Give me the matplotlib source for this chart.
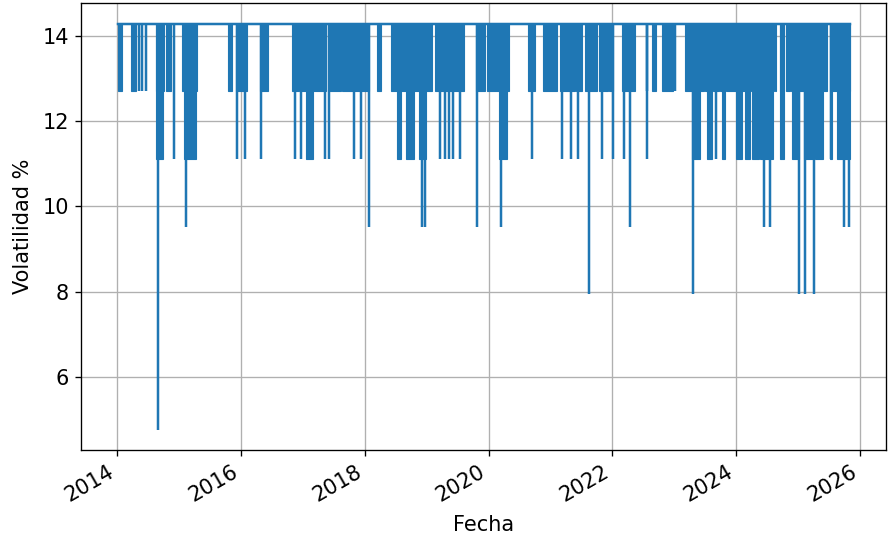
import numpy as np
import pandas as pd
import matplotlib
matplotlib.use("Agg")
import matplotlib.pyplot as plt
import matplotlib.dates as mdates

esc = 1.2
plt.rcParams['font.size'] = 15
plt.rcParams['axes.linewidth'] = 0.8 * esc
plt.rcParams['axes.labelpad'] = 7
for eje in ['xtick', 'ytick']:
    plt.rcParams[eje + '.major.size'] = 3.5 * esc
    plt.rcParams[eje + '.major.width'] = 0.8 * esc
    plt.rcParams[eje + '.major.pad'] = 3.5 * esc

# nivel normal de la serie (%)
tope = 14.29
inicio_serie = "2014-01-02"
fin_serie = "2025-11-01"

# tramos densos (la serie oscila muchas veces entre el tope y el nivel)
bloque_inicio = ["2014-01-02", "2014-03-22", "2014-08-17", "2014-10-16", "2015-01-19",
                 "2015-10-17", "2015-12-03", "2016-04-23", "2016-10-30", "2016-12-22",
                 "2017-02-20", "2017-05-30", "2017-08-21", "2018-03-15", "2018-06-06",
                 "2019-02-16", "2019-10-21", "2019-12-25", "2020-08-18", "2020-11-15",
                 "2021-02-24", "2021-05-28", "2021-07-20", "2021-10-11", "2021-12-09",
                 "2022-02-25", "2022-08-20", "2022-10-18", "2023-03-02", "2023-07-01",
                 "2023-08-16", "2023-09-28", "2023-11-03", "2024-03-26", "2024-08-15",
                 "2024-09-14", "2024-10-20", "2024-11-21", "2025-01-05", "2025-07-06",
                 # nivel 11.11
                 "2014-08-17", "2015-01-31", "2017-01-21", "2018-07-11", "2018-09-03",
                 "2018-11-19", "2020-03-05", "2023-04-13", "2023-07-10", "2023-10-07",
                 "2023-12-29", "2024-02-21", "2024-04-01", "2024-05-20", "2024-09-14",
                 "2024-11-24", "2025-02-03", "2025-04-08", "2025-07-09", "2025-08-16"]
bloque_fin = ["2014-01-30", "2014-04-21", "2014-10-04", "2014-11-15", "2015-04-16",
              "2015-11-10", "2016-02-07", "2016-06-10", "2016-12-10", "2017-02-14",
              "2017-05-18", "2017-08-15", "2018-01-28", "2018-04-08", "2019-01-29",
              "2019-08-11", "2019-12-08", "2020-05-03", "2020-09-29", "2021-02-06",
              "2021-05-22", "2021-07-08", "2021-09-29", "2021-12-03", "2022-01-02",
              "2022-05-11", "2022-09-12", "2022-12-22", "2023-06-25", "2023-08-10",
              "2023-09-22", "2023-10-28", "2024-03-20", "2024-08-09", "2024-08-20",
              "2024-10-08", "2024-11-15", "2025-01-05", "2025-06-18", "2025-11-01",
              # nivel 11.11
              "2014-09-28", "2015-04-10", "2017-03-02", "2018-08-04", "2018-10-20",
              "2018-12-30", "2020-04-21", "2023-05-30", "2023-08-09", "2023-10-25",
              "2024-02-03", "2024-03-20", "2024-05-14", "2024-08-03", "2024-10-08",
              "2025-01-05", "2025-04-02", "2025-05-25", "2025-07-18", "2025-11-01"]
bloque_nivel = [12.70] * 40 + [11.11] * 20

# caidas puntuales
caida_fecha = ["2014-05-09", "2014-05-27", "2014-06-20", "2022-07-21", "2023-01-05",
               "2014-12-02", "2015-12-09", "2016-01-26", "2016-04-29", "2016-11-14",
               "2016-12-22", "2017-05-08", "2017-06-03", "2017-10-28", "2017-12-08",
               "2019-03-18", "2019-04-20", "2019-05-11", "2019-06-07", "2019-07-18",
               "2020-09-11", "2021-03-12", "2021-05-04", "2021-06-09", "2021-10-29",
               "2022-01-02", "2022-03-07", "2022-07-24", "2023-09-02", "2024-09-26",
               "2025-05-13", "2025-07-13",
               "2015-02-12", "2018-01-25", "2018-12-01", "2018-12-24", "2019-10-27",
               "2020-03-16", "2022-04-17", "2024-06-11", "2024-07-16", "2025-10-01",
               "2025-10-30",
               "2021-08-13", "2023-04-22", "2025-01-05", "2025-02-10", "2025-04-02",
               "2014-08-29"]
caida_nivel = [12.70] * 5 + [11.11] * 27 + [9.52] * 11 + [7.94] * 5 + [4.76]

color = '#1f77b4'

fig, ax = plt.subplots(figsize=(8.89, 5.43), dpi=100)

x0 = mdates.date2num(pd.to_datetime(bloque_inicio))
x1 = mdates.date2num(pd.to_datetime(bloque_fin))
niv = np.array(bloque_nivel)
ax.bar(x0, tope - niv, width=x1 - x0, bottom=niv, align='edge',
       color=color, edgecolor=color, linewidth=0.8)

xc = mdates.date2num(pd.to_datetime(caida_fecha))
ax.vlines(xc, caida_nivel, tope, color=color, linewidth=1.5 * esc)

xs = mdates.date2num(pd.to_datetime([inicio_serie, fin_serie]))
ax.plot(xs, [tope, tope], color=color, linewidth=1.5 * esc)

ax.xaxis.set_major_locator(mdates.YearLocator(2))
ax.xaxis.set_major_formatter(mdates.DateFormatter('%Y'))
ax.grid(True, linewidth=0.8 * esc)
ax.set_axisbelow(True)
ax.set_xlabel('Fecha')
ax.set_ylabel('Volatilidad %')

fig.autofmt_xdate(bottom=0.171, rotation=30, ha='right')
fig.subplots_adjust(left=0.091, right=0.997, top=0.994, bottom=0.171)
fig.savefig('out.png', dpi=100)
